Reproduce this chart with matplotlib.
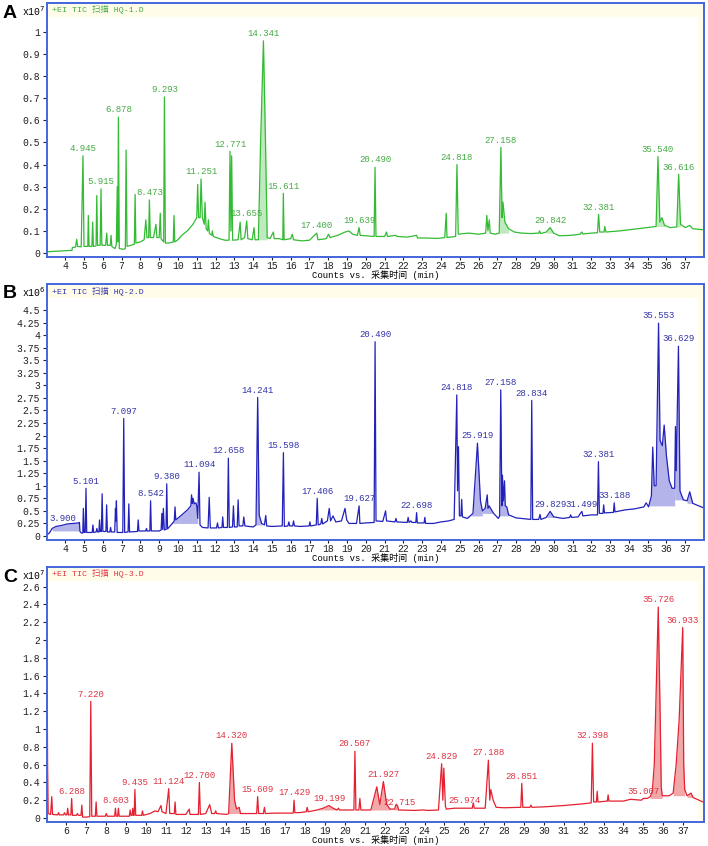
import matplotlib
matplotlib.use('Agg')
import matplotlib.pyplot as plt
from matplotlib.patches import Rectangle
import numpy as np

plt.rcParams['font.family'] = ['Liberation Mono', 'Noto Sans CJK SC']

# ---- panel A: HQ-1 (intensity x10^7) ----
trace_a = [(3.05, 0.006), (4.30, 0.012), (4.36, 0.012), (4.38, 0.025), (4.55, 0.027), (4.61, 0.062),
           (4.66, 0.03), (4.85, 0.028), (4.945, 0.44), (5.0, 0.03), (5.2, 0.03), (5.23, 0.17), (5.27, 0.03),
           (5.42, 0.03), (5.46, 0.14), (5.50, 0.03), (5.64, 0.032), (5.68, 0.26), (5.72, 0.035),
           (5.86, 0.035), (5.905, 0.29), (5.95, 0.035), (6.15, 0.035), (6.21, 0.09), (6.25, 0.035),
           (6.40, 0.035), (6.44, 0.08), (6.48, 0.03), (6.65, 0.02), (6.72, 0.04), (6.77, 0.30), (6.80, 0.05),
           (6.83, 0.615), (6.88, 0.02), (7.1, 0.017), (7.20, 0.02), (7.24, 0.466), (7.29, 0.03), (7.5, 0.035),
           (7.68, 0.04), (7.72, 0.265), (7.76, 0.045), (8.0, 0.05), (8.2, 0.06), (8.29, 0.15), (8.35, 0.07),
           (8.44, 0.07), (8.48, 0.24), (8.53, 0.07), (8.7, 0.07), (8.83, 0.13), (8.88, 0.07), (9.0, 0.07),
           (9.06, 0.18), (9.10, 0.065), (9.24, 0.05), (9.28, 0.706), (9.33, 0.045), (9.5, 0.045),
           (9.75, 0.05), (9.79, 0.17), (9.83, 0.05), (10.0, 0.06), (10.2, 0.08), (10.5, 0.10), (10.8, 0.13),
           (11.0, 0.16), (11.05, 0.31), (11.10, 0.16), (11.18, 0.16), (11.23, 0.335), (11.30, 0.16),
           (11.40, 0.13), (11.44, 0.23), (11.50, 0.11), (11.58, 0.10), (11.62, 0.15), (11.67, 0.09),
           (11.80, 0.08), (11.83, 0.10), (11.88, 0.075), (12.2, 0.065), (12.5, 0.058), (12.72, 0.058),
           (12.77, 0.46), (12.82, 0.10), (12.86, 0.44), (12.91, 0.058), (13.2, 0.06), (13.31, 0.14),
           (13.36, 0.06), (13.55, 0.07), (13.66, 0.145), (13.72, 0.065), (13.95, 0.06), (14.05, 0.115),
           (14.1, 0.06), (14.28, 0.06), (14.40, 0.50), (14.55, 0.96), (14.66, 0.50), (14.75, 0.07),
           (14.9, 0.065), (15.08, 0.095), (15.12, 0.065), (15.4, 0.065), (15.58, 0.06), (15.61, 0.27),
           (15.65, 0.06), (16.0, 0.065), (16.09, 0.085), (16.15, 0.06), (16.6, 0.055), (17.0, 0.058),
           (17.39, 0.09), (17.45, 0.06), (17.9, 0.065), (18.01, 0.085), (18.1, 0.07), (18.5, 0.08),
           (18.9, 0.095), (19.1, 0.10), (19.3, 0.085), (19.55, 0.08), (19.64, 0.115), (19.70, 0.08),
           (20.0, 0.078), (20.44, 0.075), (20.49, 0.388), (20.54, 0.075), (21.0, 0.075), (21.1, 0.095),
           (21.15, 0.075), (21.6, 0.08), (21.65, 0.075), (22.2, 0.072), (22.7, 0.08), (22.75, 0.068),
           (23.2, 0.068), (23.8, 0.066), (24.2, 0.07), (24.28, 0.18), (24.32, 0.07), (24.78, 0.075),
           (24.85, 0.40), (24.92, 0.085), (25.2, 0.088), (25.5, 0.09), (26.0, 0.085), (26.38, 0.09),
           (26.44, 0.17), (26.50, 0.10), (26.57, 0.15), (26.62, 0.09), (26.9, 0.085), (27.10, 0.09),
           (27.19, 0.478), (27.25, 0.16), (27.30, 0.23), (27.40, 0.14), (27.6, 0.11), (27.9, 0.095),
           (28.3, 0.09), (28.8, 0.088), (29.2, 0.09), (29.25, 0.10), (29.3, 0.088), (29.6, 0.095),
           (29.81, 0.115), (30.0, 0.09), (30.3, 0.078), (30.9, 0.08), (31.4, 0.085), (31.5, 0.095),
           (31.55, 0.086), (32.0, 0.09), (32.33, 0.092), (32.39, 0.175), (32.45, 0.095), (32.68, 0.095),
           (32.72, 0.12), (32.78, 0.095), (33.5, 0.10), (34.0, 0.105), (34.5, 0.11), (35.0, 0.115),
           (35.45, 0.12), (35.55, 0.436), (35.65, 0.14), (35.76, 0.16), (35.9, 0.125), (36.2, 0.115),
           (36.55, 0.118), (36.65, 0.356), (36.75, 0.13), (37.0, 0.115), (37.24, 0.125), (37.4, 0.11),
           (37.98, 0.105)]
labels_a = [("4.945", 4.945), ("5.915", 5.905), ("6.878", 6.83), ("8.473", 8.48), ("9.293", 9.28),
            ("11.251", 11.23), ("12.771", 12.77), ("13.655", 13.66), ("14.341", 14.55), ("15.611", 15.61),
            ("17.400", 17.39), ("19.639", 19.64), ("20.490", 20.49), ("24.818", 24.85), ("27.158", 27.19),
            ("29.842", 29.81), ("32.381", 32.39), ("35.540", 35.55), ("36.616", 36.65)]
fills_a = [(14.28, 14.75, 0.06), (27.10, 27.6, 0.09), (29.6, 30.0, 0.09), (35.45, 35.9, 0.12),
           (36.55, 36.75, 0.118)]
yticks_a = [0, 0.1, 0.2, 0.3, 0.4, 0.5, 0.6, 0.7, 0.8, 0.9, 1]

# ---- panel B: HQ-2 (intensity x10^6) ----
trace_b = [(3.05, 0.03), (3.15, 0.06), (3.3, 0.15), (3.5, 0.19), (3.8, 0.21), (4.1, 0.24), (4.4, 0.25),
           (4.72, 0.26), (4.75, 0.27), (4.78, 0.09), (4.85, 0.06), (4.93, 0.06), (4.96, 0.55), (5.0, 0.07),
           (5.06, 0.07), (5.10, 0.95), (5.14, 0.07), (5.43, 0.07), (5.47, 0.22), (5.51, 0.07), (5.64, 0.08),
           (5.68, 0.15), (5.72, 0.08), (5.79, 0.08), (5.82, 0.32), (5.86, 0.09), (5.92, 0.09), (5.96, 0.84),
           (6.0, 0.09), (6.16, 0.09), (6.2, 0.62), (6.24, 0.08), (6.37, 0.08), (6.41, 0.17), (6.45, 0.08),
           (6.63, 0.08), (6.67, 0.55), (6.69, 0.3), (6.72, 0.70), (6.76, 0.07), (7.06, 0.07), (7.11, 2.34),
           (7.16, 0.07), (7.34, 0.08), (7.38, 0.64), (7.42, 0.08), (7.84, 0.09), (7.88, 0.32), (7.92, 0.10),
           (8.28, 0.10), (8.32, 0.15), (8.36, 0.10), (8.50, 0.10), (8.54, 0.70), (8.58, 0.10), (9.0, 0.10),
           (9.10, 0.12), (9.14, 0.45), (9.18, 0.13), (9.22, 0.55), (9.27, 0.12), (9.36, 0.13), (9.40, 1.04),
           (9.44, 0.14), (9.7, 0.25), (9.8, 0.30), (9.84, 0.58), (9.88, 0.32), (10.2, 0.42), (10.5, 0.52),
           (10.68, 0.60), (10.72, 0.82), (10.76, 0.65), (10.80, 0.75), (10.86, 0.64), (10.95, 0.66),
           (11.0, 0.60), (11.05, 0.35), (11.12, 1.27), (11.17, 0.22), (11.3, 0.17), (11.6, 0.16),
           (11.66, 0.77), (11.72, 0.16), (12.05, 0.16), (12.1, 0.26), (12.15, 0.16), (12.34, 0.17),
           (12.38, 0.38), (12.42, 0.17), (12.63, 0.17), (12.68, 1.55), (12.73, 0.17), (12.90, 0.18),
           (12.95, 0.60), (13.0, 0.18), (13.15, 0.18), (13.2, 0.72), (13.25, 0.20), (13.45, 0.20),
           (13.5, 0.38), (13.56, 0.20), (14.0, 0.18), (14.15, 0.22), (14.24, 2.76), (14.32, 0.42),
           (14.45, 0.25), (14.6, 0.22), (14.67, 0.41), (14.72, 0.20), (15.0, 0.19), (15.55, 0.20),
           (15.61, 1.66), (15.66, 0.19), (15.85, 0.20), (15.9, 0.28), (15.95, 0.20), (16.1, 0.20),
           (16.15, 0.30), (16.2, 0.20), (16.5, 0.19), (16.98, 0.20), (17.02, 0.28), (17.06, 0.20),
           (17.36, 0.22), (17.41, 0.75), (17.46, 0.22), (17.6, 0.24), (17.65, 0.35), (17.7, 0.24),
           (17.95, 0.30), (18.05, 0.55), (18.12, 0.30), (18.25, 0.40), (18.4, 0.28), (18.7, 0.30),
           (18.89, 0.55), (18.98, 0.32), (19.1, 0.25), (19.5, 0.25), (19.64, 0.60), (19.68, 0.25),
           (20.0, 0.26), (20.44, 0.27), (20.49, 3.87), (20.54, 0.30), (20.9, 0.29), (21.05, 0.50),
           (21.1, 0.30), (21.55, 0.28), (21.6, 0.35), (21.65, 0.28), (22.2, 0.27), (22.25, 0.37),
           (22.3, 0.27), (22.4, 0.30), (22.45, 0.27), (22.66, 0.27), (22.70, 0.465), (22.74, 0.26),
           (23.1, 0.26), (23.14, 0.37), (23.18, 0.25), (23.6, 0.25), (24.0, 0.28), (24.4, 0.30),
           (24.7, 0.33), (24.84, 2.81), (24.88, 0.90), (24.93, 1.78), (24.98, 0.40), (25.06, 0.40),
           (25.1, 0.73), (25.14, 0.38), (25.4, 0.35), (25.7, 0.45), (25.94, 1.85), (26.1, 0.70),
           (26.2, 0.50), (26.35, 0.55), (26.46, 0.82), (26.5, 0.55), (26.56, 0.60), (26.8, 0.45),
           (27.05, 0.35), (27.12, 0.40), (27.18, 2.91), (27.24, 0.60), (27.27, 1.21), (27.32, 0.70),
           (27.38, 1.10), (27.42, 0.60), (27.5, 0.58), (27.6, 0.42), (28.0, 0.36), (28.5, 0.34),
           (28.78, 0.33), (28.83, 2.70), (28.88, 0.33), (29.2, 0.33), (29.27, 0.43), (29.32, 0.33),
           (29.6, 0.37), (29.81, 0.49), (30.0, 0.38), (30.5, 0.35), (30.85, 0.37), (30.9, 0.42),
           (30.95, 0.37), (31.3, 0.38), (31.4, 0.44), (31.5, 0.49), (31.55, 0.40), (32.0, 0.42),
           (32.33, 0.42), (32.38, 1.48), (32.43, 0.45), (32.62, 0.45), (32.66, 0.62), (32.7, 0.46),
           (33.18, 0.47), (33.22, 0.66), (33.26, 0.48), (33.8, 0.52), (34.3, 0.54), (34.8, 0.58),
           (34.92, 0.66), (35.05, 0.58), (35.2, 0.80), (35.27, 1.77), (35.35, 1.00), (35.45, 1.00),
           (35.58, 4.24), (35.66, 1.90), (35.78, 1.80), (35.88, 2.21), (36.0, 1.60), (36.15, 1.10),
           (36.3, 0.95), (36.44, 0.95), (36.48, 2.18), (36.52, 1.30), (36.64, 3.78), (36.72, 0.90),
           (36.9, 0.72), (37.1, 0.70), (37.24, 0.88), (37.4, 0.65), (37.98, 0.56)]
labels_b = [("5.101", 5.10), ("7.097", 7.11), ("8.542", 8.54), ("9.380", 9.40), ("11.094", 11.12),
            ("12.658", 12.68), ("14.241", 14.24), ("15.598", 15.61), ("17.406", 17.41), ("19.627", 19.64),
            ("20.490", 20.49), ("22.698", 22.70), ("24.818", 24.84), ("25.919", 25.94), ("27.158", 27.18),
            ("28.834", 28.83), ("29.829", 29.81), ("31.499", 31.5), ("32.381", 32.38), ("33.188", 33.22),
            ("35.553", 35.58), ("36.629", 36.64), ("3.900", 3.86)]
fills_b = [(3.3, 4.75, 0.10), (9.7, 11.05, 0.25), (14.15, 14.45, 0.22), (25.4, 26.2, 0.40),
           (26.2, 26.8, 0.45), (27.12, 27.6, 0.40), (29.6, 30.0, 0.37), (35.05, 36.44, 0.60),
           (36.44, 36.9, 0.72), (37.1, 37.4, 0.65)]
yticks_b = [0, 0.25, 0.5, 0.75, 1, 1.25, 1.5, 1.75, 2, 2.25, 2.5, 2.75, 3, 3.25, 3.5, 3.75, 4, 4.25, 4.5]

# ---- panel C: HQ-3 (intensity x10^7) ----
trace_c = [(5.03, 1.40), (5.05, 0.60), (5.08, 0.05), (5.2, 0.04), (5.26, 0.24), (5.3, 0.04), (5.55, 0.035),
           (5.6, 0.06), (5.64, 0.035), (5.85, 0.035), (5.9, 0.06), (5.95, 0.035), (6.02, 0.035), (6.06, 0.11),
           (6.1, 0.035), (6.22, 0.035), (6.26, 0.22), (6.3, 0.03), (6.5, 0.03), (6.55, 0.05), (6.6, 0.03),
           (6.73, 0.03), (6.77, 0.145), (6.81, 0.01), (7.0, 0.01), (7.17, 0.015), (7.22, 1.31), (7.27, 0.02),
           (7.45, 0.02), (7.49, 0.18), (7.53, 0.02), (7.95, 0.02), (8.0, 0.05), (8.05, 0.02), (8.42, 0.02),
           (8.46, 0.11), (8.5, 0.02), (8.57, 0.02), (8.61, 0.11), (8.65, 0.02), (9.16, 0.02), (9.2, 0.09),
           (9.24, 0.03), (9.3, 0.03), (9.33, 0.11), (9.37, 0.03), (9.40, 0.03), (9.44, 0.32), (9.48, 0.03),
           (9.78, 0.03), (9.82, 0.08), (9.86, 0.03), (10.2, 0.05), (10.45, 0.08), (10.6, 0.07),
           (10.75, 0.14), (10.8, 0.07), (11.0, 0.05), (11.14, 0.33), (11.19, 0.05), (11.42, 0.05),
           (11.46, 0.18), (11.5, 0.04), (12.0, 0.04), (12.17, 0.10), (12.21, 0.04), (12.63, 0.04),
           (12.68, 0.40), (12.73, 0.04), (13.0, 0.05), (13.2, 0.15), (13.3, 0.05), (13.45, 0.05),
           (13.5, 0.08), (13.55, 0.05), (14.05, 0.04), (14.15, 0.05), (14.31, 0.84), (14.45, 0.20),
           (14.55, 0.10), (14.68, 0.12), (14.75, 0.05), (15.2, 0.05), (15.56, 0.05), (15.61, 0.24),
           (15.66, 0.05), (15.9, 0.05), (15.95, 0.12), (16.0, 0.05), (16.5, 0.055), (17.0, 0.055),
           (17.4, 0.055), (17.44, 0.20), (17.48, 0.06), (17.7, 0.06), (18.05, 0.07), (18.1, 0.12),
           (18.15, 0.07), (18.6, 0.09), (18.9, 0.11), (19.2, 0.14), (19.4, 0.11), (19.6, 0.09),
           (19.68, 0.11), (19.72, 0.09), (20.3, 0.09), (20.45, 0.09), (20.5, 0.75), (20.55, 0.09),
           (20.7, 0.09), (20.75, 0.22), (20.8, 0.09), (21.3, 0.09), (21.6, 0.35), (21.75, 0.15),
           (21.93, 0.41), (22.1, 0.15), (22.27, 0.10), (22.5, 0.10), (22.55, 0.145), (22.63, 0.145),
           (22.7, 0.09), (23.5, 0.085), (23.9, 0.09), (24.2, 0.085), (24.7, 0.09), (24.86, 0.61),
           (24.92, 0.20), (24.97, 0.56), (25.05, 0.13), (25.1, 0.10), (25.5, 0.11), (26.0, 0.11),
           (26.4, 0.11), (26.45, 0.17), (26.5, 0.11), (27.05, 0.11), (27.21, 0.65), (27.28, 0.20),
           (27.33, 0.32), (27.45, 0.20), (27.6, 0.12), (28.0, 0.115), (28.84, 0.12), (28.89, 0.39),
           (28.94, 0.12), (29.3, 0.12), (29.35, 0.145), (29.4, 0.12), (30.0, 0.125), (31.0, 0.14),
           (32.0, 0.16), (32.38, 0.17), (32.44, 0.84), (32.5, 0.18), (32.64, 0.18), (32.68, 0.30),
           (32.72, 0.18), (33.19, 0.19), (33.23, 0.26), (33.27, 0.19), (34.0, 0.19), (34.35, 0.21),
           (34.9, 0.20), (35.0, 0.22), (35.2, 0.22), (35.35, 0.24), (35.45, 0.30), (35.55, 0.60),
           (35.62, 1.20), (35.75, 2.37), (35.85, 1.10), (35.9, 0.35), (35.95, 0.25), (36.3, 0.25),
           (36.5, 0.28), (36.65, 0.60), (36.8, 1.10), (36.98, 2.14), (37.03, 0.60), (37.08, 0.32),
           (37.2, 0.25), (37.4, 0.28), (37.5, 0.23), (38.0, 0.18)]
labels_c = [("6.288", 6.26), ("7.220", 7.22), ("8.603", 8.50), ("9.435", 9.44), ("11.124", 11.14),
            ("12.700", 12.68), ("14.320", 14.31), ("15.609", 15.61), ("17.429", 17.44), ("19.199", 19.2),
            ("20.507", 20.5), ("21.927", 21.93), ("22.715", 22.73), ("24.829", 24.86), ("25.974", 26.0),
            ("27.188", 27.21), ("28.851", 28.89), ("32.398", 32.44), ("35.007", 35.0), ("35.726", 35.75),
            ("36.933", 36.98)]
fills_c = [(14.15, 14.75, 0.05), (18.6, 19.6, 0.09), (21.3, 22.27, 0.09), (22.5, 22.7, 0.09),
           (35.35, 35.95, 0.22), (36.5, 37.08, 0.25), (37.2, 37.5, 0.23)]
yticks_c = [0, 0.2, 0.4, 0.6, 0.8, 1, 1.2, 1.4, 1.6, 1.8, 2, 2.2, 2.4, 2.6]

W, H = 708, 846
fig = plt.figure(figsize=(W / 100, H / 100), dpi=100)


def draw_panel(top_px, bottom_px, letter, trace, labels, fills, xlim, ylim, xticks, yticks,
               line_color, fill_color, text_color, sample, exponent):
    ax = fig.add_axes([47 / W, 1 - bottom_px / H, 657 / W, (bottom_px - top_px) / H])
    t = np.array([p[0] for p in trace])
    v = np.array([p[1] for p in trace])

    # pale header band and right strip, like the instrument software
    ax.add_patch(Rectangle((0, 1 - 14 / (bottom_px - top_px)), 1, 14 / (bottom_px - top_px),
                           transform=ax.transAxes, facecolor='#fffdea', edgecolor='none', zorder=0))
    ax.add_patch(Rectangle((1 - 6 / 657, 0), 6 / 657, 1, transform=ax.transAxes,
                           facecolor='#fffdea', edgecolor='none', zorder=0))

    for t0, t1, base in fills:
        m = (t >= t0) & (t <= t1)
        ax.fill_between(t[m], v[m], base, color=fill_color, lw=0, zorder=1)
    ax.plot(t, v, color=line_color, lw=0.9, zorder=2)

    for text, pos in labels:
        near = np.abs(t - pos) <= 0.1
        top = v[near].max()
        ax.annotate(text, (pos, top), xytext=(0, 2), textcoords='offset points',
                    ha='center', va='bottom', fontsize=6.5, color=text_color)

    ax.text(5 / 657, 1 - 7 / (bottom_px - top_px), '+EI TIC 扫描 ' + sample, transform=ax.transAxes,
            fontsize=6, color=text_color, va='center', ha='left')

    ax.set_xlim(*xlim)
    ax.set_ylim(*ylim)
    ax.set_xticks(xticks)
    ax.set_xticklabels([str(x) for x in xticks])
    ax.set_yticks(yticks)
    ax.set_yticklabels(['%g' % y for y in yticks])
    ax.tick_params(labelsize=7, length=3, width=0.8, pad=2, colors='#222222')
    ax.tick_params(axis='x', length=2, pad=1)
    for s in ax.spines.values():
        s.set_color('#4466dd')
        s.set_linewidth(1.4)
    ax.set_xlabel('Counts vs. 采集时间 (min)', fontsize=6.5, labelpad=-1)

    fig.text(22 / W, 1 - (top_px + 8) / H, 'x10$^{%d}$' % exponent, fontsize=7, va='center')
    fig.text(3 / W, 1 - (top_px + 10) / H, letter, fontsize=14, fontweight='bold',
             family='Liberation Sans', va='center')
    return ax


draw_panel(3, 257, 'A', trace_a, labels_a, fills_a, (3.03, 38.0), (-0.018, 1.131),
           list(range(4, 38)), yticks_a, '#33bb33', '#bfeabf', '#44aa44', 'HQ-1.D', 7)
draw_panel(284, 540, 'B', trace_b, labels_b, fills_b, (3.025, 38.0), (-0.08, 5.02),
           list(range(4, 38)), yticks_b, '#2222bb', '#b4b4ea', '#3333aa', 'HQ-2.D', 6)
draw_panel(567, 822, 'C', trace_c, labels_c, fills_c, (5.02, 38.05), (-0.045, 2.82),
           list(range(6, 38)), yticks_c, '#e52030', '#f2a8a8', '#dd3344', 'HQ-3.D', 7)

fig.savefig('out.png', dpi=100)
